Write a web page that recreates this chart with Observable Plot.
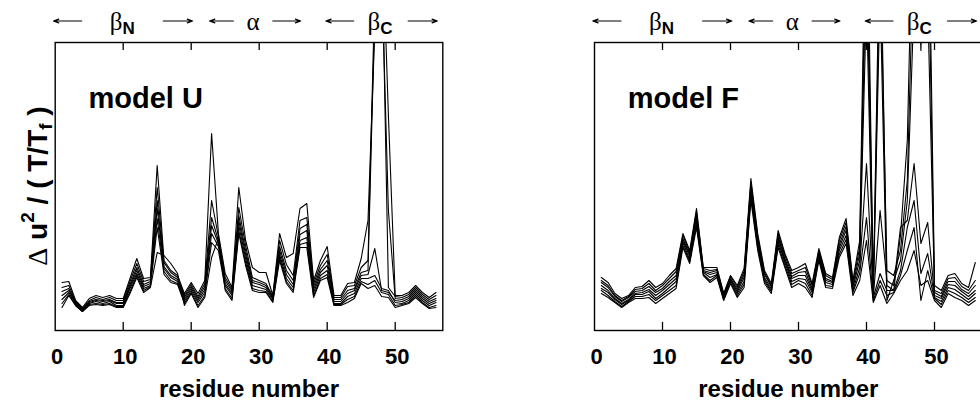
<!DOCTYPE html>
<html>
<head>
<meta charset="utf-8">
<script src="https://cdn.jsdelivr.net/npm/d3@7"></script>
<script src="https://cdn.jsdelivr.net/npm/@observablehq/plot@0.6"></script>
<style>
  html, body { margin: 0; padding: 0; background: white; overflow: hidden; }
  #wrap { position: relative; width: 980px; height: 401px; overflow: hidden; }
  #left, #right { position: absolute; top: 0; height: 401px; }
  #left { left: 0; width: 490px; }
  #right { left: 490px; width: 500px; }
  svg { display: block; }
</style>
</head>
<body>
<div id="wrap"><div id="left"></div><div id="right"></div></div>
<script>
// residue numbers
const residues = [1,2,3,4,5,6,7,8,9,10,11,12,13,14,15,16,17,18,19,20,21,22,23,24,25,26,27,28,29,30,
  31,32,33,34,35,36,37,38,39,40,41,42,43,44,45,46,47,48,49,50,51,52,53,54,55,56];

// model U: Δu² / (T/Tf), one series per temperature (arbitrary units)
const uLine1 = [48,49,30,23,32,35,33,35,32,32, 52,72,52,53,165,70,60,55,37,48, 37,50,197,97,57,43,143,90,63,58, 58,35,97,73,77,122,127,50,70,84, 35,35,47,48,72,110,300,420,215,35, 35,38,45,38,33,38];
const uLine2 = [43,45,29,22,30,33,31,33,30,30, 49,67,49,51,143,68,58,53,35,46, 34,47,130,94,53,41,123,85,53,50, 47,34,90,66,55,110,113,47,65,76, 33,33,44,45,63,70,340,400,43,34, 33,36,43,36,31,35];
const uLine3 = [39,42,28,21,29,31,30,31,28,28, 46,63,46,49,130,64,55,51,33,44, 32,44,113,90,50,39,115,80,50,48, 45,33,84,60,50,102,106,44,61,70, 31,31,40,42,58,60,320,360,120,32, 31,34,41,34,29,32];
const uLine4 = [35,40,27,21,28,30,29,30,27,27, 44,60,44,47,122,62,53,49,31,42, 30,41,105,87,47,37,110,76,48,46, 43,32,80,56,46,96,100,41,58,65, 29,29,37,40,55,56,82,40,38,30, 29,32,39,32,27,30];
const uLine5 = [31,38,26,20,27,29,27,29,25,25, 42,57,42,45,112,59,50,47,29,40, 28,38,97,84,45,35,105,72,45,43, 41,31,76,52,43,90,93,38,55,60, 27,27,34,37,52,52,55,42,40,28, 27,30,37,30,25,28];
const uLine6 = [27,36,25,19,26,27,26,27,24,24, 39,55,40,44,103,56,48,46,27,38, 25,35,88,80,42,32,100,68,42,40, 39,29,73,49,40,86,88,35,52,56, 26,26,31,34,49,46,50,38,36,25, 26,28,35,28,23,25];
const uLine7 = [23,35,25,19,25,26,25,26,23,23, 37,53,38,43,78,75,67,57,25,37, 23,33,73,92,40,30,97,65,40,38, 38,28,70,47,38,83,83,33,50,53, 25,25,28,32,47,42,45,34,33,23, 25,27,33,27,22,23];

// model F
const fLine1 = [53,48,37,32,35,43,44,50,43,47, 55,62,97,80,122,63,63,63,37,55, 45,62,152,97,60,47,100,77,60,63, 67,47,82,57,53,93,112,50,90,480, 40,420,45,40,95,190,480,280,500,45, 40,55,57,47,43,68];
const fLine2 = [50,45,35,30,34,41,42,47,40,45, 52,59,95,78,119,62,60,61,36,54, 43,59,148,94,58,45,97,75,57,60, 63,45,80,55,51,90,108,48,83,420, 37,380,60,55,80,150,400,350,420,40, 37,52,53,44,40,50];
const fLine3 = [48,43,34,29,33,39,40,44,38,42, 49,55,92,76,116,60,58,60,35,52, 41,56,145,91,56,44,94,72,54,58, 59,42,78,52,49,86,104,45,77,380, 35,340,30,50,70,130,330,300,330,38, 34,49,49,41,37,45];
const fLine4 = [45,40,32,27,31,37,38,41,35,40, 46,52,90,74,113,59,56,58,34,51, 39,53,141,88,53,42,92,70,52,55, 55,40,76,50,48,83,100,43,70,330, 33,120,50,45,103,110,167,87,108,35, 32,46,45,39,34,40];
const fLine5 = [42,38,31,26,30,36,36,39,32,37, 43,49,88,71,109,58,53,56,32,50, 37,49,137,86,51,40,89,68,49,52, 51,38,74,48,46,80,95,40,63,167, 33,57,40,40,60,103,130,57,77,33, 29,43,41,36,31,37];
const fLine6 = [40,35,29,24,29,34,34,36,30,35, 40,45,85,69,106,56,50,55,31,48, 35,46,134,83,49,39,86,65,46,50, 47,35,72,45,44,76,91,38,57,113, 30,50,35,38,55,80,103,30,60,32, 26,40,37,33,28,33];
const fLine7 = [37,33,28,23,28,32,32,33,27,32, 37,42,83,67,103,55,48,53,30,47, 33,43,130,80,47,37,83,63,43,47, 43,33,70,43,42,73,87,35,50,90, 28,45,27,37,50,60,80,45,50,30, 23,37,33,30,25,30];

// axis ticks
const xTicks = [10,20,30,40,50];
const xTickLabels = [0,10,20,30,40,50];

// secondary-structure annotation (residue units)
const arrowFrom = [3.9, 15.9, 26.2, 32.0, 43.9, 51.9];
const arrowTo   = [-0.25, 20.2, 22.7, 36.1, 39.8, 56.2];
const greekLetters = ["β", "α", "β"];
const greekAt = [9.9, 29.1, 47.8];
const greekAnchor = ["end", "middle", "end"];
const subLetters = ["N", "C"];
const subAt = [9.9, 47.8];

const FONT = "'Liberation Sans', Arial, Helvetica, sans-serif";
const SERIF = "'Liberation Serif', 'DejaVu Serif', serif";

function panel(lines, label, width, marginLeft, marginRight) {
  const rows = [];
  lines.forEach((vals, k) => vals.forEach((v, i) => rows.push({series: k, residue: residues[i], du: v})));
  const arrows = arrowFrom.map((f, i) => ({from: f, to: arrowTo[i]}));
  const greek = greekLetters.map((g, i) => ({g, x: greekAt[i], anchor: greekAnchor[i]}));
  const subs = subLetters.map((s, i) => ({s, x: subAt[i]}));
  const svg = Plot.plot({
    width, height: 401,
    marginLeft, marginRight, marginTop: 42, marginBottom: 71,
    x: {domain: [0, 57], axis: null},
    y: {domain: [0, 288], axis: null},
    style: {fontFamily: FONT, background: "white", overflow: "visible", color: "black"},
    marks: [
      Plot.line(rows, {x: "residue", y: "du", z: "series", stroke: "black", strokeWidth: 1.1, clip: true}),
      Plot.frame({stroke: "black", strokeWidth: 1.4}),
      Plot.ruleX(xTicks, {x: d => d, y1: 0, y2: 8, stroke: "black", strokeWidth: 1.3}),
      Plot.ruleX(xTicks, {x: d => d, y1: 280, y2: 288, stroke: "black", strokeWidth: 1.3}),
      Plot.text(xTickLabels, {x: d => d, y: -33, text: d => String(d), lineAnchor: "bottom", fontSize: 22, fontWeight: "bold", dx: 2, fill: "black"}),
      Plot.text(["residue number"], {frameAnchor: "bottom", dy: 66, text: d => d, lineAnchor: "bottom", fontSize: 24, fontWeight: "bold", fill: "black"}),
      Plot.text([label], {x: 4.9, y: 222.7, text: d => d, textAnchor: "start", lineAnchor: "bottom", fontSize: 29, fontWeight: "bold", fill: "black"}),
      Plot.arrow(arrows, {x1: "from", x2: "to", y1: 309.5, y2: 309.5, stroke: "black", strokeWidth: 1.2, headLength: 7, headAngle: 40}),
      Plot.text(greek.filter(d => d.anchor === "end"), {x: "x", y: 301, text: "g", textAnchor: "end", lineAnchor: "bottom", fontFamily: SERIF, fontSize: 25, fill: "black"}),
      Plot.text(greek.filter(d => d.anchor === "middle"), {x: "x", y: 301, text: "g", textAnchor: "middle", lineAnchor: "bottom", fontFamily: SERIF, fontSize: 25, fill: "black"}),
      Plot.text(subs, {x: "x", y: 296.7, text: "s", textAnchor: "start", lineAnchor: "bottom", fontSize: 17, fontWeight: "bold", fill: "black"})
    ]
  });
  svg.style.maxWidth = "none";
  svg.style.width = width + "px";
  svg.style.height = "401px";
  return svg;
}

const leftSvg = panel([uLine1, uLine2, uLine3, uLine4, uLine5, uLine6, uLine7], "model U", 490, 54.7, 47.7);
const rightSvg = panel([fLine1, fLine2, fLine3, fLine4, fLine5, fLine6, fLine7], "model F", 500, 104, 8.4);
document.getElementById("left").appendChild(leftSvg);
document.getElementById("right").appendChild(rightSvg);

// y-axis title with super/subscripts
const t = d3.select(leftSvg).append("text")
  .attr("transform", "translate(47,186) rotate(-90)")
  .attr("text-anchor", "middle")
  .attr("font-family", FONT)
  .attr("font-weight", "bold")
  .attr("font-size", 28)
  .attr("fill", "black")
  .style("white-space", "pre");
t.append("tspan").attr("font-family", SERIF).attr("font-weight", "normal").text("Δ");
t.append("tspan").text(" u");
t.append("tspan").attr("font-size", 19).attr("dy", -13).text("2");
t.append("tspan").attr("dy", 13).text(" / ( T/T");
t.append("tspan").attr("font-size", 19).attr("dy", 5).text("f");
t.append("tspan").attr("dy", -5).text(" )");
</script>
</body>
</html>
